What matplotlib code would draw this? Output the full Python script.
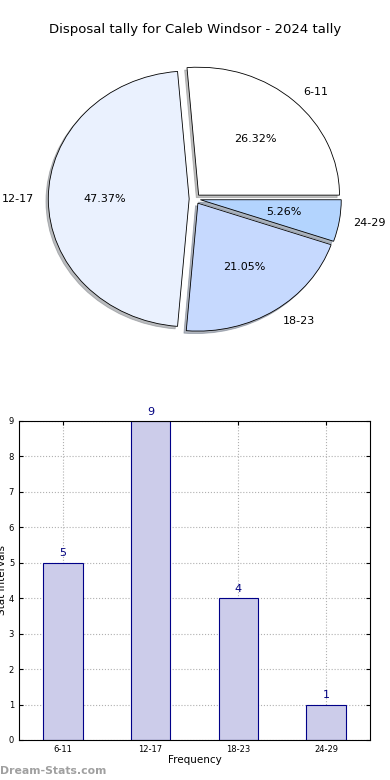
import matplotlib
matplotlib.use('Agg')
import matplotlib.pyplot as plt
import numpy as np

# data
categories = ['6-11', '12-17', '18-23', '24-29']
counts = [5, 9, 4, 1]
pie_colors = ['#ffffff', '#eaf1fe', '#c6d9fe', '#b3d4fe']
title = 'Disposal tally for Caleb Windsor - 2024 tally'

fig = plt.figure(figsize=(3.9, 7.8), dpi=100)

# pie (elliptical, like the old matplotlib output)
ax1 = fig.add_axes([0.048, 0.540, 0.903, 0.410])
wedges, texts, autotexts = ax1.pie(counts, labels=categories, colors=pie_colors,
                                   explode=[0.04] * len(counts), autopct='%1.2f%%',
                                   shadow={'ox': -0.012, 'oy': -0.014, 'shade': 0.5},
                                   startangle=0, counterclock=True,
                                   wedgeprops={'edgecolor': 'black', 'linewidth': 0.6},
                                   textprops={'fontsize': 8})
ax1.set_aspect('auto')
ax1.set_xlim(-1.25, 1.25)
ax1.set_ylim(-1.25, 1.25)
ax1.axis('off')
fig.text(0.5, 0.962, title, ha='center', va='center', fontsize=9.5)

# bar chart
ax2 = fig.add_axes([0.0487, 0.0513, 0.9, 0.409])
x = np.arange(len(categories))
ax2.bar(x, counts, width=0.45, color='#ccccea', edgecolor='#000088', linewidth=0.8, zorder=2)
for xi, c in zip(x, counts):
    ax2.text(xi, c + 0.12, str(c), ha='center', va='bottom', fontsize=8, color='#000080')
ax2.set_xlim(-0.5, 3.5)
ax2.set_ylim(0, 9)
ax2.set_xticks(x)
ax2.set_xticklabels(categories)
ax2.set_yticks(range(10))
ax2.tick_params(labelsize=6, direction='in', top=True, right=True, length=3)
ax2.grid(True, linestyle=':', color='#b0b0b0', linewidth=0.8, zorder=0)
ax2.set_xlabel('Frequency', fontsize=7.5, labelpad=1)
ax2.set_ylabel('Stat Intervals', fontsize=7.5, labelpad=1)

fig.text(0.0, 0.005, 'Dream-Stats.com', fontsize=7.8, color='#a0a0a0', fontweight='bold', ha='left', va='bottom')

plt.savefig('out.png', dpi=100)
